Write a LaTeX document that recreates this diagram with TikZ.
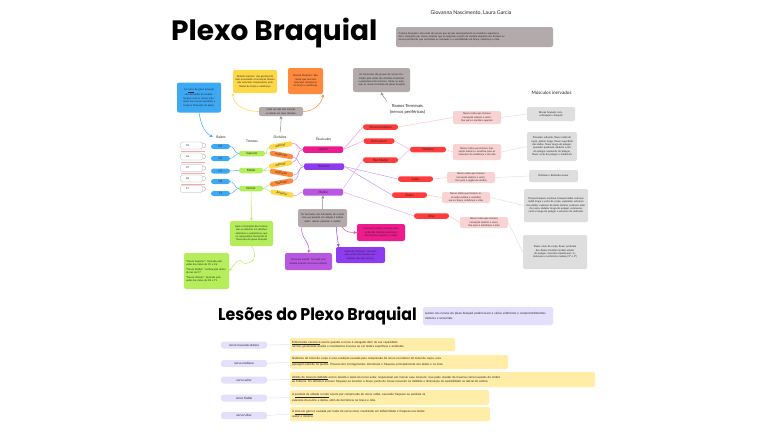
\documentclass[tikz,border=0pt]{standalone}
\usepackage{fontspec}
\usepackage{graphicx}
\setmainfont{Lato}
\newfontfamily\titlefont{Poppins}[BoldFont={* Bold}]
\usetikzlibrary{arrows.meta}
\definecolor{blueC}{HTML}{3DA9F5}
\definecolor{greenC}{HTML}{B5EE5A}
\definecolor{yellowC}{HTML}{FFD84A}
\definecolor{orangeC}{HTML}{FF8A3D}
\definecolor{lateralC}{HTML}{EE1B8C}
\definecolor{posteriorC}{HTML}{8E3BF0}
\definecolor{medialC}{HTML}{BA57E2}
\definecolor{redC}{HTML}{FF3B3B}
\definecolor{pinkN}{HTML}{F9D3D3}
\definecolor{greyM}{HTML}{DEDEDE}
\definecolor{greyN}{HTML}{B3ABAB}
\definecolor{lavC}{HTML}{E4E0FB}
\definecolor{yellowL}{HTML}{FFEDA8}
\definecolor{txt}{HTML}{222222}
\tikzset{
  box/.style={rounded corners=2pt, align=center, inner sep=1pt, text=txt,
    font=\fontsize{2.5}{3.3}\selectfont},
  pill/.style={rounded corners=2.6pt, align=center, inner sep=0.5pt, text=txt,
    font=\fontsize{3}{3.5}\selectfont},
  lbl/.style={text=txt, font=\fontsize{3.4}{4}\selectfont},
  vert/.style={draw=black!35, fill=white, rounded corners=1.5pt, line width=0.3pt,
    minimum width=22pt, minimum height=7pt, inner sep=0pt, font=\fontsize{2.4}{3}\selectfont},
  ln/.style={line width=0.45pt},
  arr/.style={line width=0.5pt, -{Stealth[length=3pt,width=3pt]}},
}
\begin{document}
\begin{tikzpicture}[x=1pt,y=-1pt]
\useasboundingbox[fill=white] (0,0) rectangle (768,431);

% ---------- title ----------
\node[anchor=west, inner sep=0pt, text=black] (title) at (171,33)
  {\titlefont\bfseries\fontsize{28}{30}\selectfont Plexo Braquial};
\node[lbl, font=\fontsize{5.2}{6}\selectfont] (authors) at (471,13) {Giovanna Nascimento, Laura Garcia};
\node[box, fill=greyN, minimum width=157pt, minimum height=20pt, text width=152pt, align=left] (intro) at (474.5,37)
  {O plexo braquial é uma rede de nervos que iervam principalmente os membros superiores.\\
   Ele é composto por ramos ventrais que se originam a partir da medula espinhal eles formam os\\
   nervos periféricos que controlam os músculos e a sensibilidade do braço, antebraço e mão.};

% ---------- top notes ----------
\node[box, fill=blueC, minimum width=44pt, minimum height=30pt, text width=40pt] (nRaiz) at (199,97.5)
  {As \underline{raízes} do plexo braquial são derivadas da medula.\\[1pt] Surgem com os ramos anteriores dos nervos espinhais e levam à formação do plexo.};
\node[box, fill=yellowC, minimum width=44pt, minimum height=23pt, text width=40pt] (nAnt) at (255,81.5)
  {Divisão anterior: são geralmente mais associadas à inervação flexora dos músculos responsáveis pela flexão de braço e antebraço};
\node[box, fill=orangeC, minimum width=35pt, minimum height=26pt, text width=31pt] (nPost) at (305.5,81)
  {Divisão Posterior: São ramos que inervam músculos extensores do braço e antebraço};
\node[box, fill=greyN, minimum width=44pt, minimum height=9pt, text width=40pt] (nDiv) at (281,111.5)
  {Cada um dos três troncos se divide em duas divisões};
\node[box, fill=greyN, minimum width=57pt, minimum height=24pt, text width=53pt] (nFasc) at (381.5,80)
  {Os fascículos são grupos de nervos formados pela união das divisões anteriores e posteriores dos troncos. Deles se originam os ramos terminais do plexo braquial};

% ---------- headers ----------
\node[lbl] (hRaiz) at (221,137) {Raízes};
\node[lbl] (hTronco) at (252,141) {Troncos};
\node[lbl] (hDiv) at (280,137) {Divisões};
\node[lbl] (hFasc) at (323.5,139) {Fascículos};
\node[lbl, font=\fontsize{4.2}{5.8}\selectfont, align=center] (hRamos) at (407.5,109.5) {Ramos Terminais\\(nervos periféricos)};
\node[lbl, font=\fontsize{4.6}{5}\selectfont] (hMusc) at (551.5,93) {Músculos inervados};

% ---------- vertebrae ----------
\foreach \i/\y/\t in {1/145.5/C5,2/156.5/C6,3/168/C7,4/178.5/C8,5/189/T1}{
  \draw[black!35, fill=white, line width=0.3pt] (201,\y) ellipse (5pt and 2.6pt);
  \node[vert] (v\i) at (191.5,\y) {\hspace{-8pt}\t};
}
\foreach \y in {151,162.3,173.3,183.8}{
  \draw[red!35, line width=0.6pt] (181,\y) -- (205,\y);
}

% ---------- roots ----------
\node[pill, fill=blueC, minimum width=19pt, minimum height=5pt] (c5) at (220.5,146.5) {C5};
\node[pill, fill=blueC, minimum width=19pt, minimum height=5pt] (c6) at (220.5,158.5) {C6};
\node[pill, fill=blueC, minimum width=19pt, minimum height=5pt] (c7) at (220.5,171) {C7};
\node[pill, fill=blueC, minimum width=19pt, minimum height=5pt] (c8) at (220.5,181.5) {C8};
\node[pill, fill=blueC, minimum width=19pt, minimum height=5pt] (t1) at (220.5,193.5) {T1};

% ---------- trunks ----------
\node[pill, fill=greenC, minimum width=26pt, minimum height=5.5pt] (tSup) at (252,153.5) {Superior};
\node[pill, fill=greenC, minimum width=24pt, minimum height=5.5pt] (tMed) at (251,170.5) {Médio};
\node[pill, fill=greenC, minimum width=24pt, minimum height=5.5pt] (tInf) at (251,188.5) {Inferior};

% ---------- divisions ----------
\node[pill, fill=yellowC, minimum width=24pt, minimum height=5pt, rotate=10] (d1) at (280.5,145.5) {anterior};
\node[pill, fill=orangeC, minimum width=24pt, minimum height=5pt, rotate=-10] (d2) at (281.5,155) {posterior};
\node[pill, fill=yellowC, minimum width=24pt, minimum height=5pt, rotate=10] (d3) at (280.5,164.5) {anterior};
\node[pill, fill=orangeC, minimum width=24pt, minimum height=5pt, rotate=-10] (d4) at (281.5,173) {Posterior};
\node[pill, fill=orangeC, minimum width=24pt, minimum height=5pt, rotate=10] (d5) at (281.5,182.5) {Posterior};
\node[pill, fill=yellowC, minimum width=24pt, minimum height=5pt, rotate=-10] (d6) at (282,193.5) {Anterior};

% ---------- cords ----------
\node[pill, fill=lateralC, minimum width=40pt, minimum height=6.5pt, rounded corners=1.5pt] (fLat) at (323,149.5) {Lateral};
\node[pill, fill=posteriorC, minimum width=40pt, minimum height=6.5pt, rounded corners=1.5pt] (fPost) at (324,166.5) {Posterior};
\node[pill, fill=medialC, minimum width=40pt, minimum height=7pt, rounded corners=1.5pt] (fMed) at (323,192) {Medial};

% ---------- nerves ----------
\node[pill, fill=redC, minimum width=35pt, minimum height=5.5pt] (nMusc) at (380.5,127) {Musculocutâneo};
\node[pill, fill=redC, minimum width=31pt, minimum height=5.5pt] (nRLat) at (379,141) {Raiz Lateral};
\node[pill, fill=redC, minimum width=35pt, minimum height=5.5pt] (nRMed) at (380.5,160) {Raiz Medial};
\node[pill, fill=redC, minimum width=36pt, minimum height=5.5pt] (nMedi) at (428,149.5) {Mediano};
\node[pill, fill=redC, minimum width=35pt, minimum height=5.5pt] (nAx) at (415.5,179) {Axilar};
\node[pill, fill=redC, minimum width=35pt, minimum height=5.5pt] (nRad) at (409.5,195) {Radial};
\node[pill, fill=redC, minimum width=35pt, minimum height=5.5pt] (nUln) at (431.5,216) {Ulnar};

% ---------- nerve notes ----------
\node[box, fill=pinkN, minimum width=48pt, minimum height=13pt, text width=44pt] (pMusc) at (477,117.5)
  {Nervo misto que fornece inervação motora e sensitiva para o membro superior};
\node[box, fill=pinkN, minimum width=48pt, minimum height=16pt, text width=44pt] (pMedi) at (477,152)
  {Nervo misto que fornece inervação motora e sensitiva para os músculos do antebraço e da mão};
\node[box, fill=pinkN, minimum width=48pt, minimum height=11pt, text width=44pt] (pAx) at (471,177.5)
  {Nervo misto que fornece inervação motora e sensitiva para a região do ombro};
\node[box, fill=pinkN, minimum width=48pt, minimum height=11pt, text width=44pt] (pRad) at (466,197.5)
  {Nervo misto que fornece inervação motora e sensitiva para o braço, antebraço e mão};
\node[box, fill=pinkN, minimum width=48pt, minimum height=11pt, text width=44pt] (pUln) at (484,222.5)
  {Nervo misto que fornece inervação motora e sensitiva para o antebraço e mão};

% ---------- muscles ----------
\node[box, fill=greyM, minimum width=48pt, minimum height=14pt, text width=44pt] (mMusc) at (551,114)
  {Bíceps braquial, coracobraquial e braquial};
\node[box, fill=greyM, minimum width=50pt, minimum height=29pt, text width=46pt] (mMedi) at (552,146.5)
  {Pronador redondo, flexor radial do carpo, palmar longo, flexor superficial dos dedos, flexor longo do polegar, pronador quadrado, abdutor curto do polegar, oponente do polegar, flexor curto do polegar e lumbricais};
\node[box, fill=greyM, minimum width=49pt, minimum height=12pt, text width=45pt] (mAx) at (553.5,176)
  {Deltoide e Redondo menor};
\node[box, fill=greyM, minimum width=64pt, minimum height=33pt, text width=60pt] (mRad) at (556,205.5)
  {Tríceps braquial, ancôneo, braquiorradial, extensor radial longo e curto do carpo, supinador, extensor dos dedos, extensor do dedo mínimo, extensor ulnar do carpo, abdutor longo do polegar, extensores curto e longo do polegar e extensor do indicador};
\node[box, fill=greyM, minimum width=64pt, minimum height=34pt, text width=60pt] (mUln) at (555,252)
  {Flexor ulnar do carpo, flexor profundo dos dedos (metade medial), adutor do polegar, músculos hipotenares, interósseos e lumbricais mediais (3º e 4º)};

% ---------- bottom notes ----------
\node[box, fill=greenC, minimum width=43pt, minimum height=25pt, text width=39pt] (g1) at (251.5,233.5)
  {Após a formação dos troncos eles se dividem em divisões anteriores e posteriores, que se reorganizam formando os fascículos do plexo braquial};
\node[box, fill=greenC, minimum width=45pt, minimum height=36pt, text width=41pt, align=left] (g2) at (206.5,271)
  {"Tronco Superior": formado pela união das raízes de C5 e C6\\[1.5pt]
   "Tronco Médio": continuação direta da raiz de C7\\[1.5pt]
   "Tronco Inferior": formado pela união das raízes de C8 e T1};
\node[box, fill=greyN, minimum width=49pt, minimum height=18pt, text width=45pt] (gBot) at (322.5,218)
  {Os fascículos são nomeados de acordo com sua posição em relação à artéria axilar: lateral, posterior e medial};
\node[box, fill=lateralC, minimum width=48pt, minimum height=17pt, text width=44pt] (bLat) at (381,232.5)
  {Fascículo Lateral: formado pela união das divisões anteriores dos troncos superior e médio};
\node[box, fill=posteriorC, minimum width=49pt, minimum height=16pt, text width=45pt] (bPost) at (360.5,255)
  {Fascículo Posterior: formado pela união das divisões posteriores dos três troncos};
\node[box, fill=medialC, minimum width=47pt, minimum height=17pt, text width=43pt] (bMed) at (308.5,261.5)
  {Fascículo medial: formado pela divisão anterior do tronco inferior};

% ---------- connectors: roots -> trunks ----------
\draw[ln, blueC] (c5.east) to[out=0,in=180] (tSup.west);
\draw[ln, blueC] (c6.east) to[out=0,in=180] (tSup.west);
\draw[ln, blueC] (c7.east) to[out=0,in=180] (tMed.west);
\draw[ln, blueC] (c8.east) to[out=0,in=180] (tInf.west);
\draw[ln, blueC] (t1.east) to[out=0,in=180] (tInf.west);
% trunks -> divisions
\draw[ln, greenC!85!black!70] (tSup.east) to[out=0,in=190] (d1.west);
\draw[ln, greenC!85!black!70] (tSup.east) to[out=0,in=170] (d2.west);
\draw[ln, greenC!85!black!70] (tMed.east) to[out=0,in=190] (d3.west);
\draw[ln, greenC!85!black!70] (tMed.east) to[out=0,in=170] (d4.west);
\draw[ln, greenC!85!black!70] (tInf.east) to[out=0,in=190] (d5.west);
\draw[ln, greenC!85!black!70] (tInf.east) to[out=0,in=170] (d6.west);
% divisions -> cords
\draw[ln, lateralC!70] (d1.east) to[out=10,in=180] (fLat.west);
\draw[ln, lateralC!70] (d3.east) to[out=10,in=180] (fLat.west);
\draw[ln, posteriorC!60] (d2.east) to[out=-10,in=180] (fPost.west);
\draw[ln, posteriorC!60] (d4.east) to[out=-10,in=180] (fPost.west);
\draw[ln, posteriorC!60] (d5.east) to[out=10,in=180] (fPost.west);
\draw[ln, medialC!70] (d6.east) to[out=-10,in=180] (fMed.west);
% cords -> nerves
\draw[ln, lateralC!45] (fLat.east) -- (nMusc.west);
\draw[ln, lateralC!45] (fLat.east) -- (nRLat.west);
\draw[ln, medialC!50] (fMed.north east) -- (nRMed.west);
\draw[ln, lateralC!35] (nRLat.east) -- (nMedi.west);
\draw[ln, lateralC!35] (nRMed.east) -- (nMedi.west);
\draw[ln, posteriorC!55] (fPost.east) -- (nAx.west);
\draw[ln, posteriorC!55] (fPost.east) -- (nRad.west);
\draw[ln, medialC!50] (fMed.east) -- (nUln.west);
% nerves -> notes
\draw[ln, red!25] (nMusc.east) -- (pMusc.west);
\draw[ln, red!25] (nMedi.east) -- (pMedi.west);
\draw[ln, red!25] (nAx.east) -- (pAx.west);
\draw[ln, red!25] (nRad.east) -- (pRad.west);
\draw[ln, red!25] (nUln.east) -- (pUln.west);
% notes -> muscles
\draw[ln, black!12] (pMusc.east) -- (mMusc.west);
\draw[ln, black!12] (pMedi.east) -- (mMedi.west);
\draw[ln, black!12] (pAx.east) -- (mAx.west);
\draw[ln, black!12] (pRad.east) -- (mRad.west);
\draw[ln, black!12] (pUln.east) -- (mUln.west);

% ---------- arrows ----------
\draw[arr, blueC] (nRaiz.south) to[out=-80,in=150] (hRaiz.west);
\draw[arr, yellowC] (nDiv.west) to[out=180,in=-90] (nAnt.south west);
\draw[arr, orangeC] (nDiv.east) to[out=0,in=-100] (nPost.south east);
\draw[arr, black!45] (hDiv.north) to[out=80,in=-90] (nDiv.south);
\draw[arr, black!45] (hRamos.north west) to[out=110,in=-80] (nFasc.south);
\draw[arr, greenC] (tInf.south) -- (g1.north);
\draw[arr, greenC] (g1.south) .. controls (262,262) and (244,266) .. (242,262)
   .. controls (240,257) and (236,262) .. (g2.east);
\draw[arr, black!45] (gBot.north) to[out=95,in=-95] (fMed.south);
\draw[arr, medialC] ([xshift=4pt]gBot.south west) to[out=-100,in=80] (bMed.north);
\draw[arr, posteriorC] ([xshift=14pt]gBot.south) to[out=-90,in=95] ([xshift=-22pt]bPost.north);
\draw[arr, lateralC!80] ([xshift=-5pt]gBot.south east) to[out=-60,in=180] (bLat.west);

% ---------- Lesões ----------
\node[anchor=west, inner sep=0pt, text=black] (lesTitle) at (218,316)
  {\titlefont\bfseries\fontsize{17}{20}\selectfont\scalebox{0.93}[1]{Lesões do Plexo Braquial}};
\node[box, fill=lavC, minimum width=130pt, minimum height=18pt, text width=126pt, align=left,
  font=\fontsize{3}{4.2}\selectfont] (lesIntro) at (488,316)
  {Lesões nos nervos do plexo braquial podem levar a várias síndromes e comprometimentos motores e sensoriais.};

\node[pill, fill=lavC, minimum width=46pt, minimum height=7pt] (l1) at (244,345) {nervo musculocutâneo};
\node[pill, fill=lavC, minimum width=46pt, minimum height=7pt] (l2) at (244,363.5) {nervo mediano};
\node[pill, fill=lavC, minimum width=46pt, minimum height=7pt] (l3) at (244,380) {nervo axilar};
\node[pill, fill=lavC, minimum width=46pt, minimum height=7pt] (l4) at (244,398) {nervo Radial};
\node[pill, fill=lavC, minimum width=46pt, minimum height=7pt] (l5) at (244,415.5) {nervo Ulnar};

\tikzset{les/.style={box, fill=yellowL, align=left, font=\fontsize{2.9}{4.3}\selectfont}}
\node[les, minimum width=165pt, minimum height=13pt, text width=161pt] (y1) at (372.5,344.5)
  {\underline{Estiramento excessivo} ocorre quando o nervo é alongado além da sua capacidade\\
   normal, geralmente devido a movimentos bruscos ou em lesões esportivas e acidentes.};
\node[les, minimum width=218pt, minimum height=14pt, text width=214pt] (y2) at (399,362)
  {\underline{Síndrome do túnel do carpo} é uma condição causada pela compressão do nervo no interior do túnel do carpo, uma\\
   passagem estreita no punho. Provoca dor, formigamento, dormência e fraqueza, principalmente nos dedos e na mão.};
\node[les, minimum width=305pt, minimum height=15pt, text width=301pt] (y3) at (442.5,379.5)
  {\underline{Atrofia do músculo deltóide} ocorre devido à lesão do nervo axilar, responsável por inervar esse músculo. Isso pode resultar de traumas como luxações do ombro\\
   ou fraturas. Os sintomas incluem fraqueza ao levantar o braço, perda de massa muscular no deltóide e diminuição da sensibilidade na lateral do ombro.};
\node[les, minimum width=199pt, minimum height=15pt, text width=195pt] (y4) at (389.5,397.5)
  {A \underline{paralisia de sábado à noite} ocorre por compressão do nervo radial, causando fraqueza ou paralisia na\\
   extensão do punho e dedos, além de dormência no braço e mão.};
\node[les, minimum width=200pt, minimum height=14pt, text width=196pt] (y5) at (390,414)
  {A \underline{mão em garra} é causada por lesão do nervo ulnar, resultando em deformidade e fraqueza nos dedos\\
   anelar e mínimo.};

\foreach \i in {1,...,5}{
  \draw[ln, lavC!80!blue!40] (l\i.east) -- (y\i.west);
}
\end{tikzpicture}
\end{document}
